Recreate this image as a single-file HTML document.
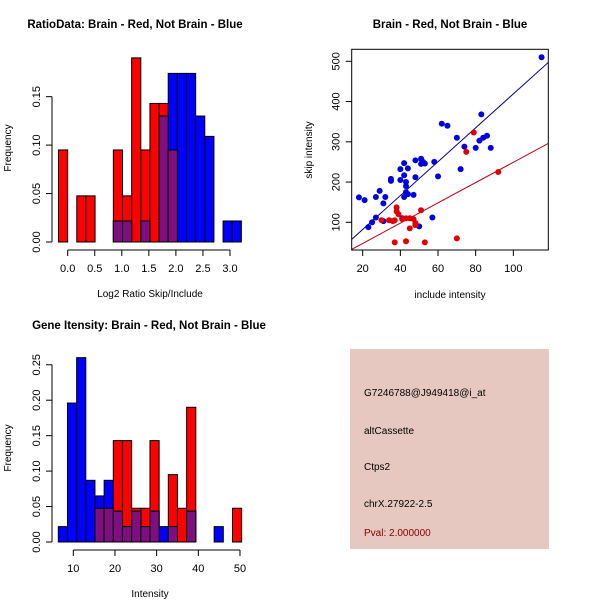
<!DOCTYPE html>
<html><head><meta charset="utf-8"><style>
body{margin:0;background:#fff}
svg{display:block;font-family:"Liberation Sans",Arial,sans-serif}
</style></head><body>
<svg id="c" width="600" height="600" xmlns="http://www.w3.org/2000/svg"></svg>
<script>
// ---- Histogram 1 data (log2 ratio) ----
const h1Start = -0.17, h1Width = 0.169;
const h1Red  = [0.095,0,0.0476,0.0476,0,0,0.095,0.0476,0.19,0.095,0.143,0.143,0.095,0,0,0,0,0,0,0];
const h1Blue = [0,0,0,0,0,0,0.0217,0.0217,0,0.0217,0,0.13,0.174,0.174,0.174,0.13,0.109,0,0.0217,0.0217];
const h1XTicks = [0,0.5,1,1.5,2,2.5,3];
const h1XLabels = ["0.0","0.5","1.0","1.5","2.0","2.5","3.0"];
const h1YTicks = [0,0.05,0.1,0.15];
const h1YLabels = ["0.00","0.05","0.10","0.15"];
// ---- Histogram 2 data (intensity) ----
const h2Start = 6.4, h2Width = 2.2;
const h2Red  = [0,0,0,0,0.0476,0.0476,0.143,0.143,0.0476,0.0476,0.143,0,0.095,0.0476,0.19,0,0,0,0,0.0476];
const h2Blue = [0.0217,0.196,0.26,0.087,0.065,0.087,0.0435,0.0217,0.0435,0.0217,0.0435,0.0217,0.0217,0,0.0435,0,0,0.0217,0,0];
const h2XTicks = [10,20,30,40,50];
const h2XLabels = ["10","20","30","40","50"];
const h2YTicks = [0,0.05,0.1,0.15,0.2,0.25];
const h2YLabels = ["0.00","0.05","0.10","0.15","0.20","0.25"];
// ---- Scatter data ----
const blueX = [18,21,23,25,27,27,29,31,31,32,35,35,40,40,41,42,42,42,43,43,43,44,44,47,48,48,50,51,51,52,53,57,58,60,62,65,70,72,74,80,82,83,84,86,88,115];
const blueY = [162,155,88,100,112,163,178,103,147,163,203,208,205,232,110,217,247,163,200,175,190,170,234,168,212,254,90,245,258,250,246,112,250,214,345,340,310,232,288,285,303,368,310,315,285,510];
const redX = [30,34,36,37,37,38,38,39,41,43,43,45,45,47,48,48,51,53,70,75,79,92];
const redY = [105,105,103,50,105,127,137,120,108,53,110,110,85,108,98,93,130,50,60,275,323,225];
const lineIntercepts = [-2, -2.9];
const lineSlopes = [4.21, 2.52];
const scXTicks = [20,40,60,80,100];
const scYTicks = [100,200,300,400,500];

const svg = document.getElementById('c');
const NS = 'http://www.w3.org/2000/svg';
function mk(tag, attrs, parent){const e=document.createElementNS(NS,tag);for(const k in attrs)e.setAttribute(k,attrs[k]);(parent||svg).appendChild(e);return e;}
function txt(s,x,y,attrs,parent){const t=mk('text',Object.assign({x:x,y:y,'text-anchor':'middle','font-size':11},attrs||{}),parent);t.textContent=s;return t;}

function hist(cfg){
  const g=mk('g',{});
  
  
  const X=v=>cfg.x0+(v-cfg.xv0)*cfg.xs, Y=v=>cfg.y0-v*cfg.ys;
  function bars(arr,fill,nm,fn){
    arr.forEach((v,i)=>{const h=fn?fn(i):v; if(h<=0)return;
      const l=X(cfg.start+i*cfg.width), r=X(cfg.start+(i+1)*cfg.width);
      const b=mk('rect',{x:l,y:Y(h),width:r-l,height:Y(0)-Y(h),fill:fill,stroke:'#000','stroke-width':1},g);
      
      });
  }
  bars(cfg.red,'#ff0000','red');
  bars(cfg.blue,'#0000ff','blue');
  bars(cfg.red,'#7f0f80','overlap',i=>Math.min(cfg.red[i],cfg.blue[i]));
  const xa=mk('g',{},g);
  
  
  const xt=cfg.xTicks, ay=cfg.y0+8;
  mk('line',{x1:X(xt[0]),x2:X(xt[xt.length-1]),y1:ay,y2:ay,stroke:'#000'},xa);
  xt.forEach((v,i)=>{mk('line',{x1:X(v),x2:X(v),y1:ay,y2:ay+6,stroke:'#000'},xa);txt(cfg.xLabels[i],X(v),ay+22,{},xa);});
  const ya=mk('g',{},g);
  
  
  const yt=cfg.yTicks, ax=cfg.ax;
  mk('line',{x1:ax,x2:ax,y1:Y(yt[0]),y2:Y(yt[yt.length-1]),stroke:'#000'},ya);
  yt.forEach((v,i)=>{mk('line',{x1:ax,x2:ax-6,y1:Y(v),y2:Y(v),stroke:'#000'},ya);
    txt(cfg.yLabels[i],ax-12,Y(v),{transform:`rotate(-90 ${ax-12} ${Y(v)})`},ya);});
  const t=txt(cfg.title,cfg.tx,cfg.ty,{'font-weight':'bold','font-size':11.5},g);
  
  
  const xl=txt(cfg.xlab,cfg.xlx,cfg.y0+55,{'font-size':10},g);
  
  
  const yly=cfg.yly;
  const yl=txt('Frequency',11,yly,{'font-size':10,transform:`rotate(-90 11 ${yly})`},g);
  
  
}

hist({name:'ratio-histogram',ax:52,x0:67.7,xv0:0,xs:54.1,y0:242,ys:969,start:h1Start,width:h1Width,red:h1Red,blue:h1Blue,
  xTicks:h1XTicks,xLabels:h1XLabels,yTicks:h1YTicks,yLabels:h1YLabels,title:'RatioData: Brain - Red, Not Brain - Blue',tx:135,ty:28,
  xlab:'Log2 Ratio Skip/Include',xlx:150,yly:148});
hist({name:'intensity-histogram',ax:52,x0:73.3,xv0:10,xs:4.167,y0:542,ys:709,start:h2Start,width:h2Width,red:h2Red,blue:h2Blue,
  xTicks:h2XTicks,xLabels:h2XLabels,yTicks:h2YTicks,yLabels:h2YLabels,title:'Gene Itensity: Brain - Red, Not Brain - Blue',tx:149,ty:329,
  xlab:'Intensity',xlx:150,yly:448});

// ---- Scatter ----
(function(){
  const g=mk('g',{});
  
  
  const L=351.7,R=548.3,T=49.3,B=250;
  const X=v=>362.7+(v-20)*1.883, Y=v=>222.3-(v-100)*0.4025;
  const cp=mk('clipPath',{id:'cp'},g); mk('rect',{x:L,y:T,width:R-L,height:B-T},cp);
  const lineCols=['#00008b','#c00020'];
  lineSlopes.forEach((s,i)=>{const xa=14,xb=120;
    const l=mk('line',{x1:X(xa),y1:Y(lineIntercepts[i]+s*xa),x2:X(xb),y2:Y(lineIntercepts[i]+s*xb),stroke:lineCols[i],'clip-path':'url(#cp)'},g);
    
    });
  blueX.forEach((v,i)=>{const c=mk('circle',{cx:X(v),cy:Y(blueY[i]),r:3,fill:'#0000e0'},g);
    
    });
  redX.forEach((v,i)=>{const c=mk('circle',{cx:X(v),cy:Y(redY[i]),r:3,fill:'#e00000'},g);
    
    });
  const box=mk('rect',{x:L,y:T,width:R-L,height:B-T,fill:'none',stroke:'#000'},g);
  
  
  scXTicks.forEach(v=>{mk('line',{x1:X(v),x2:X(v),y1:B,y2:B+6,stroke:'#000'},g);txt(String(v),X(v),B+22,{},g);});
  scYTicks.forEach(v=>{mk('line',{x1:L,x2:L-6,y1:Y(v),y2:Y(v),stroke:'#000'},g);
    txt(String(v),L-12,Y(v),{transform:`rotate(-90 ${L-12} ${Y(v)})`},g);});
  const t=txt('Brain - Red, Not Brain - Blue',450,28,{'font-weight':'bold','font-size':11.5},g);
  
  
  const xl=txt('include intensity',450,298,{'font-size':10},g);
  
  
  const yl=txt('skip intensity',312,150,{'font-size':10,transform:'rotate(-90 312 150)'},g);
  
  
})();

// ---- Info panel ----
(function(){
  const g=mk('g',{});
  
  
  mk('rect',{x:350,y:349,width:199,height:200,fill:'#e6c8c0'},g);
  const lines=[['G7246788@J949418@i_at',396,'#000','probe-id'],['altCassette',434,'#000','event-type'],['Ctps2',470,'#000','gene-name'],['chrX.27922-2.5',507,'#000','location'],['Pval: 2.000000',536,'#8b0000','pvalue']];
  lines.forEach(l=>{const t=txt(l[0],364,l[1],{'text-anchor':'start','font-size':10,fill:l[2]},g);
    
    });
})();
</script>
</body></html>
